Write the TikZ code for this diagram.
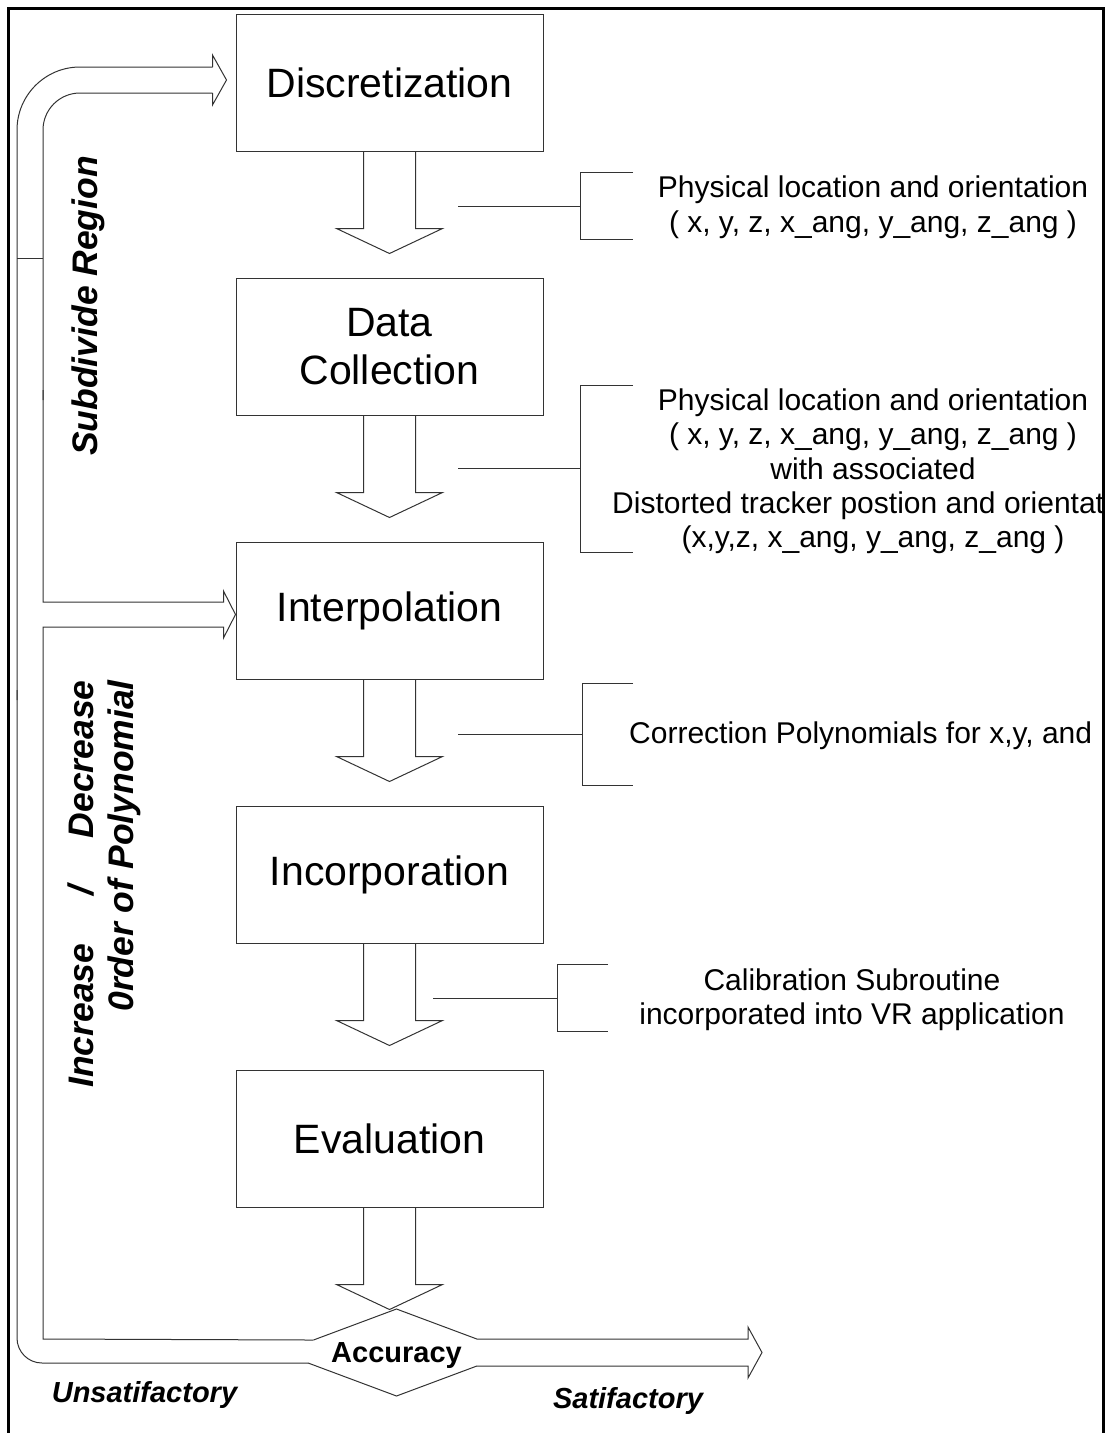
\documentclass[tikz,border=0pt]{standalone}
\usepackage{fontspec}
\setmainfont{Liberation Sans}
\usetikzlibrary{calc,shapes.geometric}

% hollow block arrow pointing down from the bottom of a stage box
\newcommand\stagearrow[1]{%
  \draw[thin line] ($(#1.south)+(-26,0)$) -- ++(0,77) -- ++(-27,0)
    -- ($(#1.south)+(0,102)$) -- ($(#1.south)+(53,77)$) -- ++(-27,0) -- ++(0,-77);}

\begin{document}
\begin{tikzpicture}[x=1pt,y=-1pt,
  thin line/.style={draw=black!80,line width=1pt},
  stagebox/.style={thin line,rectangle,minimum width=307pt,minimum height=137pt,
    inner sep=0pt,align=center,font=\fontsize{41}{48}\selectfont},
  notetext/.style={font=\fontsize{30}{34}\selectfont,anchor=base,inner sep=0pt},
  outcome/.style={font=\fontsize{29}{34}\selectfont\bfseries\itshape,anchor=base,inner sep=0pt},
  sidetext/.style={font=\fontsize{35.5}{40}\selectfont\bfseries\itshape,rotate=90,inner sep=0pt}]

\useasboundingbox (0,0) rectangle (1107,1433);

% outer frame
\draw[line width=3pt] (8,1433) -- (8,8) -- (1103,8) -- (1103,1433);

% stages
\node[stagebox] (disc)   at (389.5,82.5)   {Discretization};
\node[stagebox] (data)   at (389.5,346.5)  {Data\\Collection};
\node[stagebox] (interp) at (389.5,610.5)  {Interpolation};
\node[stagebox] (incorp) at (389.5,874.5)  {Incorporation};
\node[stagebox] (eval)   at (389.5,1138.5) {Evaluation};

\stagearrow{disc}
\stagearrow{data}
\stagearrow{interp}
\stagearrow{incorp}
\stagearrow{eval}

% decision
\node[diamond,minimum width=233pt,minimum height=87pt,inner sep=0pt,outer sep=0pt] (acc) at (396.5,1352.5) {};
\coordinate (uL) at ($(acc.west)!0.287!(acc.north)$);
\coordinate (lL) at ($(acc.west)!0.241!(acc.south)$);
\coordinate (uR) at ($(acc.east)!0.31!(acc.north)$);
\coordinate (lR) at ($(acc.east)!0.31!(acc.south)$);
\draw[thin line] (uL) -- (acc.north) -- (uR);
\draw[thin line] (lL) -- (acc.south) -- (lR);
\node[font=\fontsize{29}{34}\selectfont\bfseries,text depth=0pt,inner sep=0pt] (acctext) at (acc.center) {Accuracy};

% satisfactory exit
\coordinate (sattip) at (762,1352.5);
\draw[thin line] (uR) -- ($(sattip)+(-14,-13.5)$) -- ++(0,-12) -- (sattip)
  -- ($(sattip)+(-14,25.5)$) -- ++(0,-12) -- (lR);

% feedback loop: subdivide region
\coordinate (subtip) at ($(disc.west)+(-9,-2.5)$);
\draw[thin line,rounded corners=63pt] ($(subtip)+(-14,-13)$) -- (17,67) -- (17,700);
\draw[thin line] ($(subtip)+(-14,-13)$) -- ++(0,-12) -- (subtip)
  -- ($(subtip)+(-14,25)$) -- ++(0,-12);
\draw[thin line,rounded corners=37pt] ($(subtip)+(-14,13)$) -- (43,93) -- (43,400);
\draw[thin line] (17,258) -- (43,258);

% feedback loop: polynomial order
\coordinate (inttip) at ($(interp.west)+(0,4)$);
\draw[thin line] (43,390) -- (43,602) -- ($(inttip)+(-12,-12.5)$) -- ++(0,-11) -- (inttip)
  -- ($(inttip)+(-12,23.5)$) -- ++(0,-11) -- (43,627) -- (43,1339) -- (uL);
\draw[thin line,rounded corners=25pt] (17,690) -- (17,1363) -- (lL);

% output brackets
\draw[thin line] (458,206) -- (580,206);
\draw[thin line] (633,172) -- (580,172) -- (580,239) -- (633,239);
\draw[thin line] (458,468) -- (580,468);
\draw[thin line] (633,385) -- (580,385) -- (580,552) -- (633,552);
\draw[thin line] (458,734) -- (582,734);
\draw[thin line] (633,683) -- (582,683) -- (582,785) -- (633,785);
\draw[thin line] (433,998) -- (557,998);
\draw[thin line] (608,964) -- (557,964) -- (557,1031) -- (608,1031);

% bracket texts, cut off at the inside of the frame
\begin{scope}
\clip (0,0) rectangle (1101.5,1433);
\node[notetext] (n1a) at (873,197.5) {Physical location and orientation};
\node[notetext] (n1b) at (873,232.5) {( x, y, z, x\_ang, y\_ang, z\_ang )};
\node[notetext] (n2a) at (873,410.5) {Physical location and orientation};
\node[notetext] (n2b) at (873,444.8) {( x, y, z, x\_ang, y\_ang, z\_ang )};
\node[notetext] (n2c) at (873,479)   {with associated};
\node[notetext,anchor=base west] (n2d) at (612,513.4) {Distorted tracker postion and orientat};
\node[notetext] (n2e) at (873,547.7) {(x,y,z, x\_ang, y\_ang, z\_ang )};
\node[notetext,anchor=base west] (n3a) at (629,743.5) {Correction Polynomials for x,y, and};
\node[notetext] (n4a) at (852,990.5)  {Calibration Subroutine};
\node[notetext] (n4b) at (852,1024.5) {incorporated into VR application};
\end{scope}

% loop labels
\node[sidetext,anchor=base] (subdiv) at (97,306) {Subdivide Region};
\node[sidetext,anchor=base east] (incdec) at (93,680) {Increase \hspace{38pt}/\hspace{38pt} Decrease};
\node[sidetext,anchor=base east] (order) at (133,680) {0rder of Polynomial};

% outcomes
\node[outcome] (unsat) at (144.5,1402) {Unsatifactory};
\node[outcome] (sat)   at (628,1408)   {Satifactory};
\end{tikzpicture}
\end{document}
